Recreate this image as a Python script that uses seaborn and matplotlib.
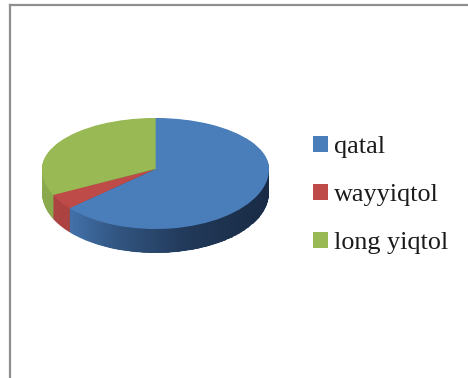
import numpy as np
import matplotlib
matplotlib.use("Agg")
import matplotlib.pyplot as plt
from matplotlib.patches import Polygon
import seaborn as sns

categories = ["qatal", "wayyiqtol", "long yiqtol"]
values = [63.7, 4.2, 32.1]
palette_hex = ["#4A7EBB", "#BE4B48", "#98B954"]

W, H = 468, 378
sns.set_theme(style="white")
plt.rcParams["font.family"] = ["Liberation Serif", "DejaVu Serif"]
colors = sns.color_palette(palette_hex)

fig = plt.figure(figsize=(W / 100, H / 100), dpi=100, facecolor="white")

# outer chart frame: only left and top edges are visible in the crop
frame = fig.add_axes([9.5 / W, 0, 1 - 9.5 / W, 1 - 4.5 / H])
frame.set_xticks([]); frame.set_yticks([])
for side, vis in dict(left=True, top=True, right=False, bottom=False).items():
    frame.spines[side].set_visible(vis)
    frame.spines[side].set_color("#8E8E8E")
    frame.spines[side].set_linewidth(1.6)

# pixel geometry of the tilted pie
cx, cy, rx, r_up, r_dn, depth_px = 155.5, 169, 113.5, 51, 60, 24
xlim = (-1.1, 1.1)
ylim = (-1.5, 1.1)
fwd = lambda y: np.where(np.asarray(y) > 0, np.asarray(y) * r_up, np.asarray(y) * r_dn)
inv = lambda v: np.where(np.asarray(v) > 0, np.asarray(v) / r_up, np.asarray(v) / r_dn)

left = cx + xlim[0] * rx
right = cx + xlim[1] * rx
top = cy - ylim[1] * r_up
bot = cy - ylim[0] * r_dn
ax = fig.add_axes([left / W, 1 - bot / H, (right - left) / W, (bot - top) / H])
ax.patch.set_alpha(0)
ax.set_yscale("function", functions=(fwd, inv))

depth = depth_px / r_dn
n_layers = 40
for k in range(n_layers, 0, -1):
    ax.pie(values, colors=colors, startangle=90, counterclock=False,
           center=(0, -depth * k / n_layers), wedgeprops=dict(linewidth=0))

ax.set_aspect("auto")
ax.set_xlim(*xlim)
ax.set_ylim(*ylim)

# side shading (dark to the right)
xe = np.linspace(-1.02, 1.02, 120)
ye = np.array([-1.5, 0.2])
xm = 0.5 * (xe[:-1] + xe[1:])
alpha = np.interp(xm, [-1.0, -0.75, -0.3, 0.3, 1.0], [0.08, 0.10, 0.34, 0.55, 0.66])
rgba = np.zeros((1, len(xm), 4))
rgba[0, :, 2] = 0.03
rgba[0, :, 3] = alpha
mesh = ax.pcolormesh(xe, ye, rgba, shading="flat", linewidth=0, rasterized=True, zorder=5)
t = np.linspace(np.pi, 2 * np.pi, 200)
hull = np.vstack([np.c_[np.cos(t), np.sin(t) - depth], [[1, 0], [-1, 0]]])
clip = Polygon(hull, closed=True, transform=ax.transData, fill=False, edgecolor="none")
ax.add_patch(clip)
mesh.set_clip_path(clip)

wedges, _ = ax.pie(values, colors=colors, startangle=90, counterclock=False,
                   wedgeprops=dict(linewidth=0, zorder=10))
for w in wedges:
    w.set_zorder(10)
ax.set_aspect("auto")
ax.set_xlim(*xlim)
ax.set_ylim(*ylim)

fs = 18.8
fig.legend(wedges, categories, loc="upper left",
           bbox_to_anchor=(313 / W, 1 - 136 / H), bbox_transform=fig.transFigure,
           frameon=False, fontsize=fs, borderpad=0, borderaxespad=0,
           handlelength=10.8 / fs, handleheight=10.8 / fs, handletextpad=0.22,
           labelspacing=0.98, labelcolor="#1A1A1A")

fig.savefig("out.png", dpi=100, facecolor="white")
